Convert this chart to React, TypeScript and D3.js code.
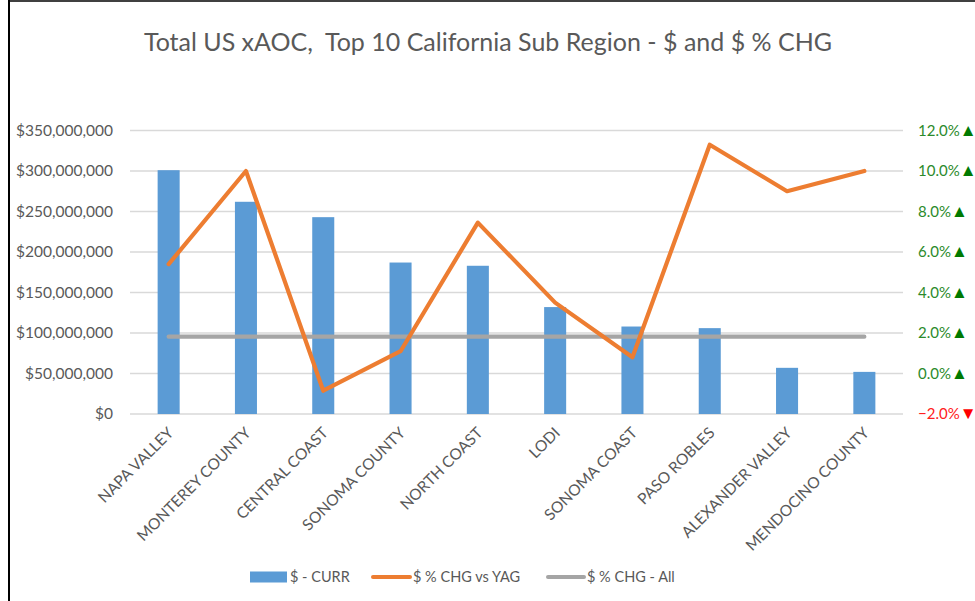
import React, { useEffect, useRef } from 'react';
import * as d3 from 'd3';

const regions = [
  'NAPA VALLEY', 'MONTEREY COUNTY', 'CENTRAL COAST', 'SONOMA COUNTY', 'NORTH COAST',
  'LODI', 'SONOMA COAST', 'PASO ROBLES', 'ALEXANDER VALLEY', 'MENDOCINO COUNTY'
];
const dollarsCurr = [301e6, 262e6, 243e6, 187e6, 183e6, 132e6, 108e6, 106e6, 57e6, 52e6];
const pctChgVsYag = [5.4, 10.0, -0.85, 1.1, 7.45, 3.5, 0.8, 11.3, 9.0, 10.0];
const pctChgAll = [1.82, 1.82, 1.82, 1.82, 1.82, 1.82, 1.82, 1.82, 1.82, 1.82];
const leftTicks = [0, 50e6, 100e6, 150e6, 200e6, 250e6, 300e6, 350e6];
const rightTicks = [-2, 0, 2, 4, 6, 8, 10, 12];

const App = () => {
  const svgRef = useRef<SVGSVGElement>(null);
  const width = 975;
  const height = 601;
  const margin = { left: 130, right: 72, top: 130.5, bottom: 187 };
  const font = 'Lato, "Open Sans", sans-serif';
  const textColor = '#595959';

  useEffect(() => {
    const svg = d3.select(svgRef.current);
    svg.selectAll('*').remove();

    const x = d3.scaleBand()
      .domain(regions)
      .range([margin.left, width - margin.right]);

    const yLeft = d3.scaleLinear()
      .domain([0, 350e6])
      .range([height - margin.bottom, margin.top]);

    const yRight = d3.scaleLinear()
      .domain([-2, 12])
      .range([height - margin.bottom, margin.top]);

    // frame
    svg.append('line').attr('x1', 9).attr('x2', 9).attr('y1', 0).attr('y2', height)
      .attr('stroke', '#000').attr('stroke-width', 2);
    svg.append('line').attr('x1', 9).attr('x2', width).attr('y1', 1).attr('y2', 1)
      .attr('stroke', '#000').attr('stroke-width', 1.5);

    // title
    svg.append('text')
      .attr('x', 488).attr('y', 51)
      .attr('text-anchor', 'middle')
      .style('font-family', font).style('font-size', '25px').style('fill', textColor)
      .style('white-space', 'pre')
      .text('Total US xAOC,  Top 10 California Sub Region - $ and $ % CHG');

    // gridlines
    svg.append('g').selectAll('line')
      .data(leftTicks)
      .enter().append('line')
      .attr('x1', margin.left).attr('x2', width - margin.right)
      .attr('y1', d => yLeft(d)).attr('y2', d => yLeft(d))
      .attr('stroke', '#d9d9d9').attr('stroke-width', 1.3);

    // left axis
    const leftAxis = d3.axisLeft(yLeft)
      .tickValues(leftTicks)
      .tickSize(0)
      .tickPadding(17)
      .tickFormat(d => '$' + d3.format(',')(d as number));
    const gl = svg.append('g')
      .attr('transform', `translate(${margin.left}, 0)`)
      .call(leftAxis);
    gl.select('.domain').remove();
    gl.selectAll('text')
      .style('font-family', font).style('font-size', '15.5px').style('fill', textColor);

    // right axis
    const gr = svg.append('g');
    rightTicks.forEach(t => {
      const g = gr.append('text')
        .attr('x', width - margin.right + 15)
        .attr('y', yRight(t))
        .attr('dy', '0.35em')
        .style('font-family', font).style('font-size', '15px')
        .style('fill', t < 0 ? '#ff2020' : '#2b8a2b');
      g.append('tspan').text(d3.format('.1f')(t) + '%');
      g.append('tspan')
        .style('fill', t < 0 ? '#ff0000' : '#007a00')
        .style('font-size', '17px')
        .text(t < 0 ? '▼' : '▲');
    });

    // bars
    const barW = x.bandwidth() * 0.285;
    svg.append('g').selectAll('rect')
      .data(regions)
      .enter().append('rect')
      .attr('x', d => (x(d) as number) + x.bandwidth() / 2 - barW / 2)
      .attr('y', (d, i) => yLeft(dollarsCurr[i]))
      .attr('width', barW)
      .attr('height', (d, i) => yLeft(0) - yLeft(dollarsCurr[i]))
      .attr('fill', '#5b9bd5');

    const cx = (d: string) => (x(d) as number) + x.bandwidth() / 2;

    const allLine = d3.line<number>()
      .x((d, i) => cx(regions[i]))
      .y(d => yRight(d));
    svg.append('path')
      .datum(pctChgAll)
      .attr('d', allLine)
      .attr('fill', 'none')
      .attr('stroke', '#a5a5a5')
      .attr('stroke-width', 4.2)
      .attr('stroke-linecap', 'round');

    const chgLine = d3.line<number>()
      .x((d, i) => cx(regions[i]))
      .y(d => yRight(d));
    svg.append('path')
      .datum(pctChgVsYag)
      .attr('d', chgLine)
      .attr('fill', 'none')
      .attr('stroke', '#ed7d31')
      .attr('stroke-width', 4.2)
      .attr('stroke-linejoin', 'round')
      .attr('stroke-linecap', 'round');

    // x labels
    svg.append('g').selectAll('text')
      .data(regions)
      .enter().append('text')
      .attr('transform', d => `translate(${cx(d) + 2}, ${height - margin.bottom + 16}) rotate(-45)`)
      .attr('text-anchor', 'end')
      .attr('dy', '0.35em')
      .style('font-family', font).style('font-size', '15.5px').style('fill', textColor)
      .text(d => d);

    // legend
    const legend = svg.append('g').attr('transform', 'translate(0, 577)');
    legend.append('rect').attr('x', 250).attr('y', -5.5).attr('width', 37).attr('height', 11).attr('fill', '#5b9bd5');
    legend.append('text').attr('x', 290).attr('dy', '0.35em')
      .style('font-family', font).style('font-size', '14.5px').style('fill', textColor).text('$ - CURR');
    legend.append('line').attr('x1', 373).attr('x2', 410).attr('y1', 0).attr('y2', 0)
      .attr('stroke', '#ed7d31').attr('stroke-width', 4).attr('stroke-linecap', 'round');
    legend.append('text').attr('x', 413).attr('dy', '0.35em')
      .style('font-family', font).style('font-size', '14.5px').style('fill', textColor).text('$ % CHG vs YAG');
    legend.append('line').attr('x1', 548).attr('x2', 584).attr('y1', 0).attr('y2', 0)
      .attr('stroke', '#a5a5a5').attr('stroke-width', 4).attr('stroke-linecap', 'round');
    legend.append('text').attr('x', 587).attr('dy', '0.35em')
      .style('font-family', font).style('font-size', '14.5px').style('fill', textColor).text('$ % CHG - All');
  }, []);

  return (
    <svg ref={svgRef} width={width} height={height}
      style={{ position: 'absolute', left: 0, top: 0, background: '#fff' }} />
  );
};

export default App;
